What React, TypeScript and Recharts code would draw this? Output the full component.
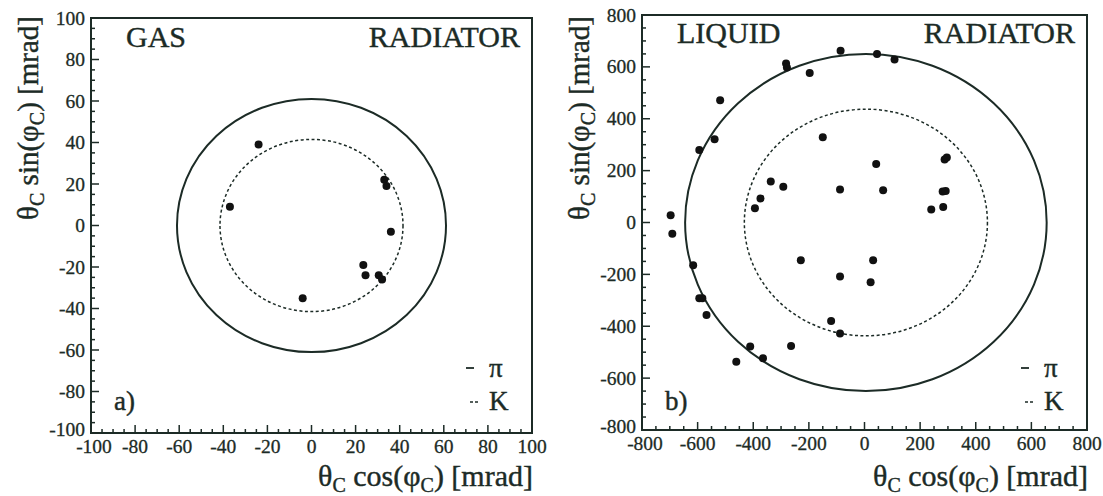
import React from 'react';
import { ScatterChart, Scatter, XAxis, YAxis, ReferenceArea, Customized } from 'recharts';

const INK = '#1c2b26';
const FONT = '"Liberation Serif", "DejaVu Serif", "Times New Roman", serif';

// a) gas radiator, mrad
const gasCos = [-24, -37, 33, 34, 36, 23.5, 24.5, 30.5, 32, -4];
const gasSin = [39, 9, 22, 19, -3, -19, -24, -24, -26, -35];
const gasRings = [61, 41.5]; // pi, K
const gasTicks = [-100, -80, -60, -40, -20, 0, 20, 40, 60, 80, 100];

// b) liquid radiator, mrad
const liquidCos = [
  -697, -691, -594, -539, -519, -282, -279, -197, -86, 45, 108, -150, -337, -292, -374, -394,
  -88, 42, 67, 288, 296, 281, 292, 283, 240, -616, -594, -583, -568, -411, -365, -461, -264,
  -229, 31, -88, 22, -120, -88,
];
const liquidSin = [
  28, -43, 280, 321, 471, 613, 598, 576, 662, 650, 628, 329, 158, 138, 93, 55,
  127, 226, 124, 243, 251, 120, 121, 60, 50, -165, -292, -292, -357, -478, -523, -537, -476,
  -146, -146, -208, -230, -380, -428,
];
const liquidRings = [650, 437];
const liquidTicks = [-800, -600, -400, -200, 0, 200, 400, 600, 800];

function withMinor(major: number[], sub: number) {
  const out: number[] = [];
  for (let i = 0; i < major.length - 1; i++) {
    const step = (major[i + 1] - major[i]) / sub;
    for (let k = 0; k < sub; k++) out.push(major[i] + k * step);
  }
  out.push(major[major.length - 1]);
  return out;
}

const labelStyle = { fontSize: 19.5, fill: INK, fontFamily: FONT, stroke: INK, strokeWidth: 0.3 };

const makeXTick = (majors: number[]) => (props: any) => {
  const { x, y, payload } = props;
  const major = majors.includes(payload.value);
  const first = payload.value === majors[0];
  return (
    <g>
      <line x1={x} x2={x} y1={y} y2={y - (major ? 8 : 4)} stroke={INK} strokeWidth={1.5} />
      {major && (
        <text x={x + (first ? 3 : 0)} y={y + 20} textAnchor="middle" {...labelStyle}>
          {payload.value}
        </text>
      )}
    </g>
  );
};

const makeYTick = (majors: number[]) => (props: any) => {
  const { x, y, payload } = props;
  const major = majors.includes(payload.value);
  const first = payload.value === majors[0];
  return (
    <g>
      <line x1={x} x2={x + (major ? 8 : 4)} y1={y} y2={y} stroke={INK} strokeWidth={1.5} />
      {major && (
        <text x={x - 6} y={y + (first ? 3 : 6.5)} textAnchor="end" {...labelStyle}>
          {payload.value}
        </text>
      )}
    </g>
  );
};

const ring = (dashed: boolean) => (p: any) => (
  <ellipse
    cx={p.x + p.width / 2}
    cy={p.y + p.height / 2}
    rx={Math.abs(p.width) / 2}
    ry={Math.abs(p.height) / 2}
    fill="none"
    stroke={INK}
    strokeWidth={dashed ? 1.5 : 2}
    strokeDasharray={dashed ? '3 2.5' : undefined}
  />
);

const dot = (p: any) => <circle cx={p.cx} cy={p.cy} r={4} fill="#111" />;

function Panel(props: {
  cosVals: number[];
  sinVals: number[];
  rings: number[];
  center: number;
  majors: number[];
  sub: number;
  width: number;
  top: number;
  bottom: number;
  right: number;
  medium: string;
  mediumY: number;
  tag: string;
  legendX: number;
}) {
  const { cosVals, sinVals, rings, center, majors, sub, width, top, bottom, right } = props;
  const lo = majors[0];
  const hi = majors[majors.length - 1];
  const data = cosVals.map((c, i) => ({ x: c, y: sinVals[i] }));
  const ticks = withMinor(majors, sub);
  const frameRight = width - right;
  const lx = props.legendX;

  const Texts = () => (
    <g fontFamily={FONT} fill={INK} stroke={INK} strokeWidth={0.4}>
      <text x={126} y={props.mediumY} fontSize={30}>{props.medium}</text>
      <text x={frameRight - 12} y={props.mediumY} fontSize={30} textAnchor="end">RADIATOR</text>
      <text x={114} y={410} fontSize={27}>{props.tag}</text>
      <line x1={lx - 23} x2={lx - 15} y1={368} y2={368} strokeWidth={1.8} />
      <text x={lx} y={377} fontSize={27}>π</text>
      <line x1={lx - 19} x2={lx - 10} y1={402} y2={402} strokeWidth={1.5} strokeDasharray="3 2" />
      <text x={lx} y={410} fontSize={27}>K</text>
      <text x={frameRight + 1} y={486} fontSize={30} textAnchor="end">
        θ<tspan fontSize={20} dy={6}>C</tspan>
        <tspan dy={-6}> cos(φ</tspan>
        <tspan fontSize={20} dy={6}>C</tspan>
        <tspan dy={-6}>) [mrad]</tspan>
      </text>
      <text x={38} y={16} fontSize={29} textAnchor="end" transform="rotate(-90, 38, 16)">
        θ<tspan fontSize={20} dy={6}>C</tspan>
        <tspan dy={-6}> sin(φ</tspan>
        <tspan fontSize={20} dy={6}>C</tspan>
        <tspan dy={-6}>) [mrad]</tspan>
      </text>
    </g>
  );

  return (
    <ScatterChart width={width} height={496} margin={{ top, right, bottom: bottom - 30, left: 31 }}>
      <XAxis
        type="number"
        dataKey="x"
        domain={[lo, hi]}
        ticks={ticks}
        interval={0}
        allowDataOverflow
        height={30}
        axisLine={false}
        tickLine={false}
        tickSize={0}
        tickMargin={0}
        tick={makeXTick(majors)}
      />
      <YAxis
        type="number"
        dataKey="y"
        domain={[lo, hi]}
        ticks={ticks}
        interval={0}
        allowDataOverflow
        width={60}
        axisLine={false}
        tickLine={false}
        tickSize={0}
        tickMargin={0}
        tick={makeYTick(majors)}
      />
      <ReferenceArea x1={lo} x2={hi} y1={lo} y2={hi} fill="none" stroke={INK} strokeWidth={2} fillOpacity={0} />
      <ReferenceArea
        x1={center - rings[0]}
        x2={center + rings[0]}
        y1={-rings[0]}
        y2={rings[0]}
        shape={ring(false)}
      />
      <ReferenceArea
        x1={center - rings[1]}
        x2={center + rings[1]}
        y1={-rings[1]}
        y2={rings[1]}
        shape={ring(true)}
      />
      <Scatter data={data} shape={dot} isAnimationActive={false} />
      <Customized component={<Texts />} />
    </ScatterChart>
  );
}

export default function App() {
  return (
    <div style={{ position: 'absolute', left: 0, top: 0, width: 1103, height: 496, background: '#fff' }}>
      <div style={{ position: 'absolute', left: 0, top: 0 }}>
        <Panel
          cosVals={gasCos}
          sinVals={gasSin}
          rings={gasRings}
          center={0}
          majors={gasTicks}
          sub={4}
          width={551}
          top={18}
          bottom={63}
          right={19}
          medium="GAS"
          mediumY={47}
          tag="a)"
          legendX={489}
        />
      </div>
      <div style={{ position: 'absolute', left: 551, top: 0 }}>
        <Panel
          cosVals={liquidCos}
          sinVals={liquidSin}
          rings={liquidRings}
          center={5}
          majors={liquidTicks}
          sub={4}
          width={552}
          top={15}
          bottom={66}
          right={16}
          medium="LIQUID"
          mediumY={43}
          tag="b)"
          legendX={493}
        />
      </div>
    </div>
  );
}
